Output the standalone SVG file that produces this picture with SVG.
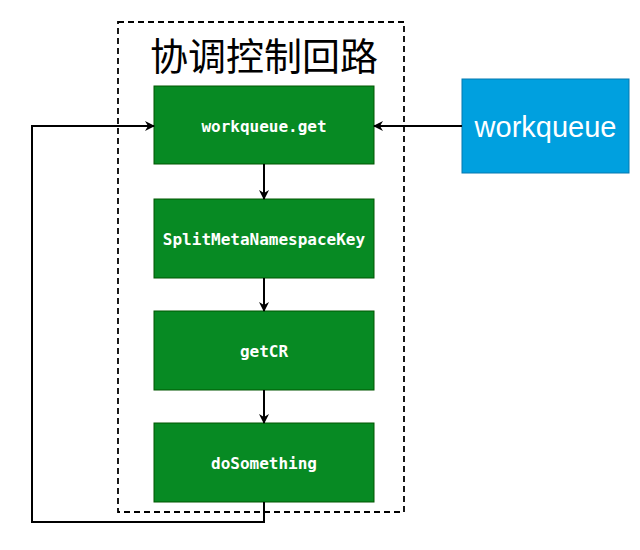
<svg xmlns="http://www.w3.org/2000/svg" width="640" height="550" viewBox="0 0 640 550">
<defs>
<marker id="ah" viewBox="0 0 10 10" refX="9" refY="5" markerWidth="10" markerHeight="10" markerUnits="userSpaceOnUse" orient="auto">
<path d="M0,0 L10,5 L0,10 L3,5 Z" fill="#000"/>
</marker>
<style>
.g{fill:#078A23;stroke:#005700;stroke-width:1}
.gt{font-family:"DejaVu Sans Mono",monospace;font-size:16px;font-weight:bold;fill:#fff;text-anchor:middle;dominant-baseline:central}
.c{fill:none;stroke:#000;stroke-width:2;marker-end:url(#ah)}
</style>
</defs>
<rect width="640" height="550" fill="#fff"/>
<g id="container">
<rect x="118" y="22" width="286" height="490" fill="none" stroke="#000" stroke-width="1.8" stroke-dasharray="6,4"/>
<text x="264" y="53" font-family="'Noto Sans CJK SC',sans-serif" font-size="38" text-anchor="middle" dominant-baseline="central" fill="#000">协调控制回路</text>
</g>
<g id="n1"><rect class="g" x="154" y="86" width="220" height="78"/><text class="gt" x="264" y="126">workqueue.get</text></g>
<g id="n2"><rect class="g" x="154" y="199" width="220" height="79"/><text class="gt" x="264" y="239">SplitMetaNamespaceKey</text></g>
<g id="n3"><rect class="g" x="154" y="311" width="220" height="79"/><text class="gt" x="264" y="351">getCR</text></g>
<g id="n4"><rect class="g" x="154" y="423" width="220" height="79"/><text class="gt" x="264" y="463">doSomething</text></g>
<g id="wq"><rect x="462" y="79" width="167" height="94" fill="#00A0DF" stroke="#0579B0" stroke-width="1"/><text x="545.5" y="127" font-family="'Liberation Sans',Arial,sans-serif" font-size="29" fill="#fff" text-anchor="middle" dominant-baseline="central">workqueue</text></g>
<g id="connectors">
<path class="c" d="M462,126 L374,126"/>
<path class="c" d="M264,164 L264,199"/>
<path class="c" d="M264,278 L264,311"/>
<path class="c" d="M264,390 L264,423"/>
<path class="c" d="M264,502 L264,522 L32,522 L32,126 L154,126"/>
</g>
</svg>
